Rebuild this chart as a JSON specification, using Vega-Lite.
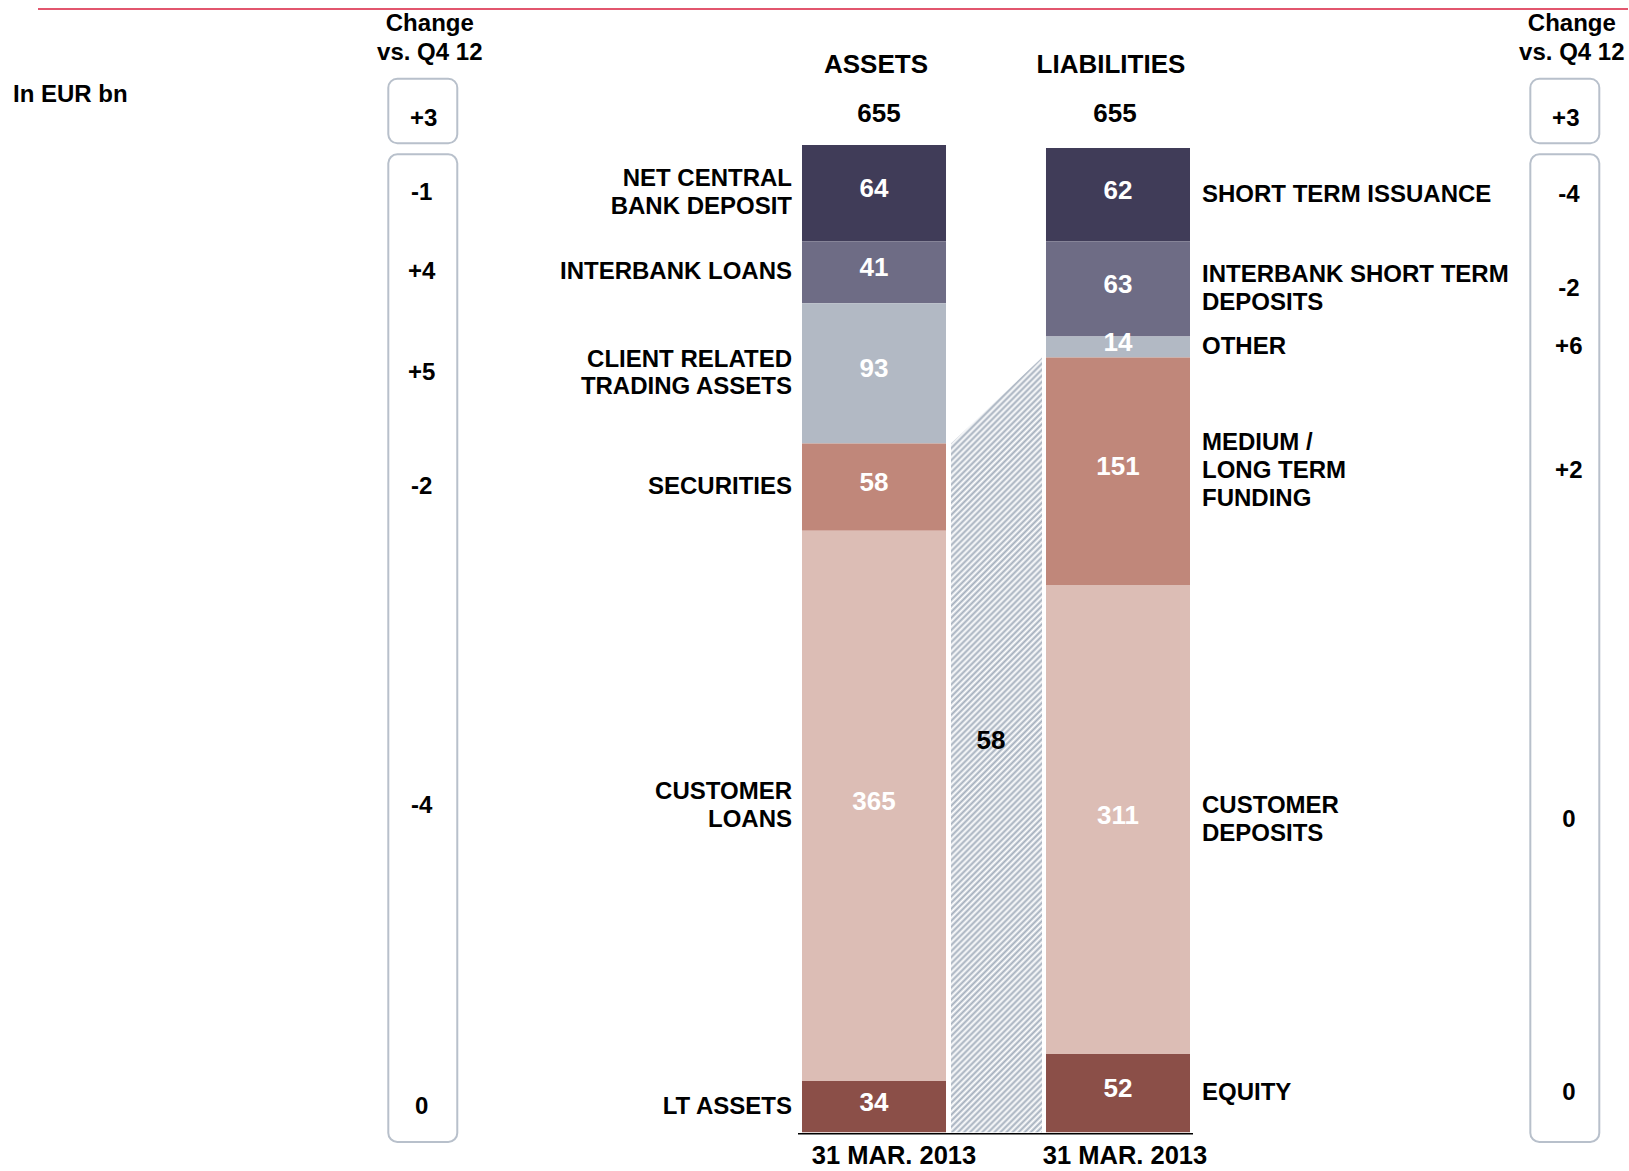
{
 "$schema": "https://vega.github.io/schema/vega-lite/v6.json",
 "width": 1629,
 "height": 1171,
 "autosize": {"type": "fit", "contains": "padding"},
 "padding": 0,
 "background": "#ffffff",
 "config": {
  "view": {"stroke": null},
  "font": "Liberation Sans",
  "text": {"font": "Liberation Sans", "fontWeight": "bold", "baseline": "middle", "fill": "#000000"}
 },
 "datasets": {
  "segments": [
   {"side": "Assets", "pos": 1, "item": ["NET CENTRAL", "BANK DEPOSIT"], "value": 64, "change": "-1"},
   {"side": "Assets", "pos": 2, "item": "INTERBANK LOANS", "value": 41, "change": "+4"},
   {"side": "Assets", "pos": 3, "item": ["CLIENT RELATED", "TRADING ASSETS"], "value": 93, "change": "+5"},
   {"side": "Assets", "pos": 4, "item": "SECURITIES", "value": 58, "change": "-2"},
   {"side": "Assets", "pos": 5, "item": ["CUSTOMER", "LOANS"], "value": 365, "change": "-4"},
   {"side": "Assets", "pos": 6, "item": "LT ASSETS", "value": 34, "change": "0"},
   {"side": "Liabilities", "pos": 1, "item": "SHORT TERM ISSUANCE", "value": 62, "change": "-4"},
   {"side": "Liabilities", "pos": 2, "item": ["INTERBANK SHORT TERM", "DEPOSITS"], "value": 63, "change": "-2"},
   {"side": "Liabilities", "pos": 3, "item": "OTHER", "value": 14, "change": "+6"},
   {"side": "Liabilities", "pos": 4, "item": ["MEDIUM /", "LONG TERM", "FUNDING"], "value": 151, "change": "+2"},
   {"side": "Liabilities", "pos": 5, "item": ["CUSTOMER", "DEPOSITS"], "value": 311, "change": "0"},
   {"side": "Liabilities", "pos": 6, "item": "EQUITY", "value": 52, "change": "0"}
  ],
  "totals": [
   {"side": "Assets", "title": "ASSETS", "total": 655, "change": "+3", "date": "31 MAR. 2013"},
   {"side": "Liabilities", "title": "LIABILITIES", "total": 655, "change": "+3", "date": "31 MAR. 2013"}
  ],
  "gap": [
   {"side": "Assets", "top": 457, "label": "58"},
   {"side": "Liabilities", "top": 514, "label": "58"}
  ]
 },
 "resolve": {"scale": {"x": "independent"}},
 "layer": [
  {
   "layer": [
    {
     "data": {"name": "segments"},
     "transform": [
      {"stack": "value", "groupby": ["side"], "sort": [{"field": "pos", "order": "descending"}], "as": ["v0", "v1"]},
      {"calculate": "(datum.v0+datum.v1)/2", "as": "mid"}
     ],
     "mark": {"type": "bar"},
     "encoding": {
      "x": {"field": "side", "type": "nominal", "scale": {"type": "band", "domain": ["Assets", "Liabilities"], "range": [798, 1194], "paddingInner": 0.4098, "paddingOuter": 0.0164}, "axis": null},
      "y": {"field": "v1", "type": "quantitative", "scale": {"domain": [-25.7, 751.2], "nice": false, "zero": false}, "axis": null},
      "y2": {"field": "v0"},
      "color": {"field": "pos", "type": "ordinal", "scale": {"domain": [1, 2, 3, 4, 5, 6], "range": ["#403c58", "#6e6c85", "#b2b9c4", "#c0877a", "#dcbdb5", "#8b4f48"]}, "legend": null}
     }
    },
    {
     "data": {"name": "segments"},
     "transform": [
      {"stack": "value", "groupby": ["side"], "sort": [{"field": "pos", "order": "descending"}], "as": ["v0", "v1"]},
      {"calculate": "(datum.v0+datum.v1)/2", "as": "mid"}
     ],
     "mark": {"type": "text", "fill": "#ffffff", "fontSize": 26, "dy": -4},
     "encoding": {
      "x": {"field": "side", "type": "nominal", "axis": null},
      "y": {"field": "mid", "type": "quantitative", "axis": null},
      "text": {"field": "value", "type": "nominal"}
     }
    },
    {
     "data": {"name": "segments"},
     "transform": [
      {"stack": "value", "groupby": ["side"], "sort": [{"field": "pos", "order": "descending"}], "as": ["v0", "v1"]},
      {"calculate": "(datum.v0+datum.v1)/2", "as": "mid"},
      {"filter": "datum.side === 'Assets' && !isArray(datum.item)"}
     ],
     "mark": {"type": "text", "align": "right", "dx": -10, "fontSize": 24},
     "encoding": {
      "x": {"field": "side", "type": "nominal", "bandPosition": 0, "axis": null},
      "y": {"field": "mid", "type": "quantitative", "axis": null},
      "text": {"field": "item", "type": "nominal"}
     }
    },
    {
     "data": {"name": "segments"},
     "transform": [
      {"stack": "value", "groupby": ["side"], "sort": [{"field": "pos", "order": "descending"}], "as": ["v0", "v1"]},
      {"calculate": "(datum.v0+datum.v1)/2", "as": "mid"},
      {"filter": "datum.side === 'Assets' && isArray(datum.item)"}
     ],
     "mark": {"type": "text", "align": "right", "dx": -10, "dy": -13.75, "fontSize": 24, "lineHeight": 27.5},
     "encoding": {
      "x": {"field": "side", "type": "nominal", "bandPosition": 0, "axis": null},
      "y": {"field": "mid", "type": "quantitative", "axis": null},
      "text": {"field": "item", "type": "nominal"}
     }
    },
    {
     "data": {"name": "segments"},
     "transform": [
      {"stack": "value", "groupby": ["side"], "sort": [{"field": "pos", "order": "descending"}], "as": ["v0", "v1"]},
      {"calculate": "(datum.v0+datum.v1)/2", "as": "mid"},
      {"filter": "datum.side === 'Liabilities' && !isArray(datum.item)"}
     ],
     "mark": {"type": "text", "align": "left", "dx": 12, "fontSize": 24},
     "encoding": {
      "x": {"field": "side", "type": "nominal", "bandPosition": 1, "axis": null},
      "y": {"field": "mid", "type": "quantitative", "axis": null},
      "text": {"field": "item", "type": "nominal"}
     }
    },
    {
     "data": {"name": "segments"},
     "transform": [
      {"stack": "value", "groupby": ["side"], "sort": [{"field": "pos", "order": "descending"}], "as": ["v0", "v1"]},
      {"calculate": "(datum.v0+datum.v1)/2", "as": "mid"},
      {"filter": "datum.side === 'Liabilities' && isArray(datum.item) && length(datum.item) === 2"}
     ],
     "mark": {"type": "text", "align": "left", "dx": 12, "dy": -14, "fontSize": 24, "lineHeight": 28},
     "encoding": {
      "x": {"field": "side", "type": "nominal", "bandPosition": 1, "axis": null},
      "y": {"field": "mid", "type": "quantitative", "axis": null},
      "text": {"field": "item", "type": "nominal"}
     }
    },
    {
     "data": {"name": "segments"},
     "transform": [
      {"stack": "value", "groupby": ["side"], "sort": [{"field": "pos", "order": "descending"}], "as": ["v0", "v1"]},
      {"calculate": "(datum.v0+datum.v1)/2", "as": "mid"},
      {"filter": "datum.side === 'Liabilities' && isArray(datum.item) && length(datum.item) === 3"}
     ],
     "mark": {"type": "text", "align": "left", "dx": 12, "dy": -28, "fontSize": 24, "lineHeight": 28},
     "encoding": {
      "x": {"field": "side", "type": "nominal", "bandPosition": 1, "axis": null},
      "y": {"field": "mid", "type": "quantitative", "axis": null},
      "text": {"field": "item", "type": "nominal"}
     }
    },
    {
     "data": {"name": "totals"},
     "transform": [{"filter": "datum.side === 'Assets'"}],
     "mark": {"type": "text", "fontSize": 26, "dy": -79.5, "dx": 2},
     "encoding": {
      "x": {"field": "side", "type": "nominal", "axis": null},
      "y": {"field": "total", "type": "quantitative", "axis": null},
      "text": {"field": "title", "type": "nominal"}
     }
    },
    {
     "data": {"name": "totals"},
     "transform": [{"filter": "datum.side === 'Liabilities'"}],
     "mark": {"type": "text", "fontSize": 26, "dy": -79.5, "dx": -7},
     "encoding": {
      "x": {"field": "side", "type": "nominal", "axis": null},
      "y": {"field": "total", "type": "quantitative", "axis": null},
      "text": {"field": "title", "type": "nominal"}
     }
    },
    {
     "data": {"name": "totals"},
     "transform": [{"filter": "datum.side === 'Assets'"}],
     "mark": {"type": "text", "fontSize": 26, "dy": -31.3, "dx": 5},
     "encoding": {
      "x": {"field": "side", "type": "nominal", "axis": null},
      "y": {"field": "total", "type": "quantitative", "axis": null},
      "text": {"field": "total", "type": "nominal"}
     }
    },
    {
     "data": {"name": "totals"},
     "transform": [{"filter": "datum.side === 'Liabilities'"}],
     "mark": {"type": "text", "fontSize": 26, "dy": -31.3, "dx": -3},
     "encoding": {
      "x": {"field": "side", "type": "nominal", "axis": null},
      "y": {"field": "total", "type": "quantitative", "axis": null},
      "text": {"field": "total", "type": "nominal"}
     }
    },
    {
     "data": {"name": "totals"},
     "transform": [{"filter": "datum.side === 'Assets'"}],
     "mark": {"type": "text", "fontSize": 25.5, "dy": 24, "dx": 20},
     "encoding": {
      "x": {"field": "side", "type": "nominal", "axis": null},
      "y": {"datum": 0, "type": "quantitative", "axis": null},
      "text": {"field": "date", "type": "nominal"}
     }
    },
    {
     "data": {"name": "totals"},
     "transform": [{"filter": "datum.side === 'Liabilities'"}],
     "mark": {"type": "text", "fontSize": 25.5, "dy": 24, "dx": 7},
     "encoding": {
      "x": {"field": "side", "type": "nominal", "axis": null},
      "y": {"datum": 0, "type": "quantitative", "axis": null},
      "text": {"field": "date", "type": "nominal"}
     }
    }
   ]
  },
  {
   "layer": [
    {
     "data": {"name": "totals"},
     "mark": {"type": "rect", "fill": "#ffffff", "stroke": "#b8c0cb", "strokeWidth": 2, "cornerRadius": 9, "yOffset": -66.3, "y2Offset": -1.7},
     "encoding": {
      "x": {"field": "side", "type": "nominal", "scale": {"type": "band", "domain": ["Assets", "Liabilities"], "range": [388.3, 1599.3], "paddingInner": 0.9396, "paddingOuter": 0}, "axis": null},
      "y": {"field": "total", "type": "quantitative", "axis": null},
      "y2": {"field": "total"}
     }
    },
    {
     "data": {"name": "totals"},
     "mark": {"type": "rect", "fill": "#ffffff", "stroke": "#b8c0cb", "strokeWidth": 2, "cornerRadius": 9, "yOffset": 9.3, "y2Offset": 9.7},
     "encoding": {
      "x": {"field": "side", "type": "nominal", "axis": null},
      "y": {"field": "total", "type": "quantitative", "axis": null},
      "y2": {"datum": 0}
     }
    },
    {
     "data": {"name": "totals"},
     "mark": {"type": "text", "fontSize": 24, "dy": -25.5, "dx": 1},
     "encoding": {
      "x": {"field": "side", "type": "nominal", "axis": null},
      "y": {"field": "total", "type": "quantitative", "axis": null},
      "text": {"field": "change", "type": "nominal"}
     }
    },
    {
     "data": {"name": "totals"},
     "mark": {"type": "text", "fontSize": 24, "dy": -121.25, "dx": 7, "lineHeight": 29.5},
     "encoding": {
      "x": {"field": "side", "type": "nominal", "axis": null},
      "y": {"field": "total", "type": "quantitative", "axis": null},
      "text": {"value": ["Change", "vs. Q4 12"]}
     }
    },
    {
     "data": {"name": "segments"},
     "transform": [
      {"stack": "value", "groupby": ["side"], "sort": [{"field": "pos", "order": "descending"}], "as": ["v0", "v1"]},
      {"calculate": "(datum.v0+datum.v1)/2", "as": "mid"},
      {"filter": "datum.side === 'Assets'"}
     ],
     "mark": {"type": "text", "fontSize": 24, "dx": -1},
     "encoding": {
      "x": {"field": "side", "type": "nominal", "axis": null},
      "y": {"field": "mid", "type": "quantitative", "axis": null},
      "text": {"field": "change", "type": "nominal"}
     }
    },
    {
     "data": {"name": "segments"},
     "transform": [
      {"stack": "value", "groupby": ["side"], "sort": [{"field": "pos", "order": "descending"}], "as": ["v0", "v1"]},
      {"calculate": "(datum.v0+datum.v1)/2", "as": "mid"},
      {"filter": "datum.side === 'Liabilities'"}
     ],
     "mark": {"type": "text", "fontSize": 24, "dx": 4},
     "encoding": {
      "x": {"field": "side", "type": "nominal", "axis": null},
      "y": {"field": "mid", "type": "quantitative", "axis": null},
      "text": {"field": "change", "type": "nominal"}
     }
    }
   ]
  },
  {
   "layer": [
    {
     "data": {"name": "gap"},
     "mark": {
      "type": "area", "opacity": 1, "fillOpacity": 1, "interpolate": "linear",
      "fill": {"gradient": "linear", "x1": 0, "y1": 0, "x2": 0.1295, "y2": 1.1022, "stops": [
       {"offset": 0, "color": "#a4afbd"}, {"offset": 0.0035, "color": "#ffffff"}, {"offset": 0.007, "color": "#a4afbd"}, {"offset": 0.0105, "color": "#ffffff"}, {"offset": 0.014, "color": "#a4afbd"}, {"offset": 0.0175, "color": "#ffffff"}, {"offset": 0.021, "color": "#a4afbd"}, {"offset": 0.0245, "color": "#ffffff"}, {"offset": 0.028, "color": "#a4afbd"}, {"offset": 0.0315, "color": "#ffffff"}, {"offset": 0.035, "color": "#a4afbd"}, {"offset": 0.0385, "color": "#ffffff"}, {"offset": 0.042, "color": "#a4afbd"}, {"offset": 0.0455, "color": "#ffffff"}, {"offset": 0.049, "color": "#a4afbd"}, {"offset": 0.0525, "color": "#ffffff"}, {"offset": 0.056, "color": "#a4afbd"}, {"offset": 0.0595, "color": "#ffffff"}, {"offset": 0.063, "color": "#a4afbd"}, {"offset": 0.0665, "color": "#ffffff"},
       {"offset": 0.07, "color": "#a4afbd"}, {"offset": 0.0735, "color": "#ffffff"}, {"offset": 0.077, "color": "#a4afbd"}, {"offset": 0.0805, "color": "#ffffff"}, {"offset": 0.084, "color": "#a4afbd"}, {"offset": 0.0875, "color": "#ffffff"}, {"offset": 0.091, "color": "#a4afbd"}, {"offset": 0.0945, "color": "#ffffff"}, {"offset": 0.098, "color": "#a4afbd"}, {"offset": 0.1015, "color": "#ffffff"}, {"offset": 0.105, "color": "#a4afbd"}, {"offset": 0.1085, "color": "#ffffff"}, {"offset": 0.112, "color": "#a4afbd"}, {"offset": 0.1155, "color": "#ffffff"}, {"offset": 0.119, "color": "#a4afbd"}, {"offset": 0.1225, "color": "#ffffff"}, {"offset": 0.126, "color": "#a4afbd"}, {"offset": 0.1295, "color": "#ffffff"}, {"offset": 0.133, "color": "#a4afbd"}, {"offset": 0.1365, "color": "#ffffff"},
       {"offset": 0.14, "color": "#a4afbd"}, {"offset": 0.1435, "color": "#ffffff"}, {"offset": 0.147, "color": "#a4afbd"}, {"offset": 0.1505, "color": "#ffffff"}, {"offset": 0.154, "color": "#a4afbd"}, {"offset": 0.1575, "color": "#ffffff"}, {"offset": 0.161, "color": "#a4afbd"}, {"offset": 0.1645, "color": "#ffffff"}, {"offset": 0.168, "color": "#a4afbd"}, {"offset": 0.1715, "color": "#ffffff"}, {"offset": 0.175, "color": "#a4afbd"}, {"offset": 0.1785, "color": "#ffffff"}, {"offset": 0.182, "color": "#a4afbd"}, {"offset": 0.1855, "color": "#ffffff"}, {"offset": 0.189, "color": "#a4afbd"}, {"offset": 0.1925, "color": "#ffffff"}, {"offset": 0.196, "color": "#a4afbd"}, {"offset": 0.1995, "color": "#ffffff"}, {"offset": 0.203, "color": "#a4afbd"}, {"offset": 0.2065, "color": "#ffffff"},
       {"offset": 0.21, "color": "#a4afbd"}, {"offset": 0.2135, "color": "#ffffff"}, {"offset": 0.217, "color": "#a4afbd"}, {"offset": 0.2205, "color": "#ffffff"}, {"offset": 0.224, "color": "#a4afbd"}, {"offset": 0.2275, "color": "#ffffff"}, {"offset": 0.231, "color": "#a4afbd"}, {"offset": 0.2345, "color": "#ffffff"}, {"offset": 0.238, "color": "#a4afbd"}, {"offset": 0.2415, "color": "#ffffff"}, {"offset": 0.245, "color": "#a4afbd"}, {"offset": 0.2485, "color": "#ffffff"}, {"offset": 0.252, "color": "#a4afbd"}, {"offset": 0.2555, "color": "#ffffff"}, {"offset": 0.259, "color": "#a4afbd"}, {"offset": 0.2625, "color": "#ffffff"}, {"offset": 0.266, "color": "#a4afbd"}, {"offset": 0.2695, "color": "#ffffff"}, {"offset": 0.273, "color": "#a4afbd"}, {"offset": 0.2765, "color": "#ffffff"},
       {"offset": 0.28, "color": "#a4afbd"}, {"offset": 0.2835, "color": "#ffffff"}, {"offset": 0.287, "color": "#a4afbd"}, {"offset": 0.2905, "color": "#ffffff"}, {"offset": 0.294, "color": "#a4afbd"}, {"offset": 0.2975, "color": "#ffffff"}, {"offset": 0.301, "color": "#a4afbd"}, {"offset": 0.3045, "color": "#ffffff"}, {"offset": 0.308, "color": "#a4afbd"}, {"offset": 0.3115, "color": "#ffffff"}, {"offset": 0.315, "color": "#a4afbd"}, {"offset": 0.3185, "color": "#ffffff"}, {"offset": 0.322, "color": "#a4afbd"}, {"offset": 0.3255, "color": "#ffffff"}, {"offset": 0.329, "color": "#a4afbd"}, {"offset": 0.3325, "color": "#ffffff"}, {"offset": 0.336, "color": "#a4afbd"}, {"offset": 0.3395, "color": "#ffffff"}, {"offset": 0.343, "color": "#a4afbd"}, {"offset": 0.3465, "color": "#ffffff"},
       {"offset": 0.35, "color": "#a4afbd"}, {"offset": 0.3535, "color": "#ffffff"}, {"offset": 0.357, "color": "#a4afbd"}, {"offset": 0.3605, "color": "#ffffff"}, {"offset": 0.364, "color": "#a4afbd"}, {"offset": 0.3675, "color": "#ffffff"}, {"offset": 0.371, "color": "#a4afbd"}, {"offset": 0.3745, "color": "#ffffff"}, {"offset": 0.378, "color": "#a4afbd"}, {"offset": 0.3815, "color": "#ffffff"}, {"offset": 0.385, "color": "#a4afbd"}, {"offset": 0.3885, "color": "#ffffff"}, {"offset": 0.392, "color": "#a4afbd"}, {"offset": 0.3955, "color": "#ffffff"}, {"offset": 0.399, "color": "#a4afbd"}, {"offset": 0.4025, "color": "#ffffff"}, {"offset": 0.406, "color": "#a4afbd"}, {"offset": 0.4095, "color": "#ffffff"}, {"offset": 0.413, "color": "#a4afbd"}, {"offset": 0.4165, "color": "#ffffff"},
       {"offset": 0.42, "color": "#a4afbd"}, {"offset": 0.4235, "color": "#ffffff"}, {"offset": 0.427, "color": "#a4afbd"}, {"offset": 0.4305, "color": "#ffffff"}, {"offset": 0.434, "color": "#a4afbd"}, {"offset": 0.4375, "color": "#ffffff"}, {"offset": 0.441, "color": "#a4afbd"}, {"offset": 0.4445, "color": "#ffffff"}, {"offset": 0.448, "color": "#a4afbd"}, {"offset": 0.4515, "color": "#ffffff"}, {"offset": 0.455, "color": "#a4afbd"}, {"offset": 0.4585, "color": "#ffffff"}, {"offset": 0.462, "color": "#a4afbd"}, {"offset": 0.4655, "color": "#ffffff"}, {"offset": 0.469, "color": "#a4afbd"}, {"offset": 0.4725, "color": "#ffffff"}, {"offset": 0.476, "color": "#a4afbd"}, {"offset": 0.4795, "color": "#ffffff"}, {"offset": 0.483, "color": "#a4afbd"}, {"offset": 0.4865, "color": "#ffffff"},
       {"offset": 0.49, "color": "#a4afbd"}, {"offset": 0.4935, "color": "#ffffff"}, {"offset": 0.497, "color": "#a4afbd"}, {"offset": 0.5005, "color": "#ffffff"}, {"offset": 0.504, "color": "#a4afbd"}, {"offset": 0.5075, "color": "#ffffff"}, {"offset": 0.511, "color": "#a4afbd"}, {"offset": 0.5145, "color": "#ffffff"}, {"offset": 0.518, "color": "#a4afbd"}, {"offset": 0.5215, "color": "#ffffff"}, {"offset": 0.525, "color": "#a4afbd"}, {"offset": 0.5285, "color": "#ffffff"}, {"offset": 0.532, "color": "#a4afbd"}, {"offset": 0.5355, "color": "#ffffff"}, {"offset": 0.539, "color": "#a4afbd"}, {"offset": 0.5425, "color": "#ffffff"}, {"offset": 0.546, "color": "#a4afbd"}, {"offset": 0.5495, "color": "#ffffff"}, {"offset": 0.553, "color": "#a4afbd"}, {"offset": 0.5565, "color": "#ffffff"},
       {"offset": 0.56, "color": "#a4afbd"}, {"offset": 0.5635, "color": "#ffffff"}, {"offset": 0.567, "color": "#a4afbd"}, {"offset": 0.5705, "color": "#ffffff"}, {"offset": 0.574, "color": "#a4afbd"}, {"offset": 0.5775, "color": "#ffffff"}, {"offset": 0.581, "color": "#a4afbd"}, {"offset": 0.5845, "color": "#ffffff"}, {"offset": 0.588, "color": "#a4afbd"}, {"offset": 0.5915, "color": "#ffffff"}, {"offset": 0.595, "color": "#a4afbd"}, {"offset": 0.5985, "color": "#ffffff"}, {"offset": 0.602, "color": "#a4afbd"}, {"offset": 0.6055, "color": "#ffffff"}, {"offset": 0.609, "color": "#a4afbd"}, {"offset": 0.6125, "color": "#ffffff"}, {"offset": 0.616, "color": "#a4afbd"}, {"offset": 0.6195, "color": "#ffffff"}, {"offset": 0.623, "color": "#a4afbd"}, {"offset": 0.6265, "color": "#ffffff"},
       {"offset": 0.63, "color": "#a4afbd"}, {"offset": 0.6335, "color": "#ffffff"}, {"offset": 0.637, "color": "#a4afbd"}, {"offset": 0.6405, "color": "#ffffff"}, {"offset": 0.644, "color": "#a4afbd"}, {"offset": 0.6475, "color": "#ffffff"}, {"offset": 0.651, "color": "#a4afbd"}, {"offset": 0.6545, "color": "#ffffff"}, {"offset": 0.658, "color": "#a4afbd"}, {"offset": 0.6615, "color": "#ffffff"}, {"offset": 0.665, "color": "#a4afbd"}, {"offset": 0.6685, "color": "#ffffff"}, {"offset": 0.672, "color": "#a4afbd"}, {"offset": 0.6755, "color": "#ffffff"}, {"offset": 0.679, "color": "#a4afbd"}, {"offset": 0.6825, "color": "#ffffff"}, {"offset": 0.686, "color": "#a4afbd"}, {"offset": 0.6895, "color": "#ffffff"}, {"offset": 0.693, "color": "#a4afbd"}, {"offset": 0.6965, "color": "#ffffff"},
       {"offset": 0.7, "color": "#a4afbd"}, {"offset": 0.7035, "color": "#ffffff"}, {"offset": 0.707, "color": "#a4afbd"}, {"offset": 0.7105, "color": "#ffffff"}, {"offset": 0.714, "color": "#a4afbd"}, {"offset": 0.7175, "color": "#ffffff"}, {"offset": 0.721, "color": "#a4afbd"}, {"offset": 0.7245, "color": "#ffffff"}, {"offset": 0.728, "color": "#a4afbd"}, {"offset": 0.7315, "color": "#ffffff"}, {"offset": 0.735, "color": "#a4afbd"}, {"offset": 0.7385, "color": "#ffffff"}, {"offset": 0.742, "color": "#a4afbd"}, {"offset": 0.7455, "color": "#ffffff"}, {"offset": 0.749, "color": "#a4afbd"}, {"offset": 0.7525, "color": "#ffffff"}, {"offset": 0.756, "color": "#a4afbd"}, {"offset": 0.7595, "color": "#ffffff"}, {"offset": 0.763, "color": "#a4afbd"}, {"offset": 0.7665, "color": "#ffffff"},
       {"offset": 0.77, "color": "#a4afbd"}, {"offset": 0.7735, "color": "#ffffff"}, {"offset": 0.777, "color": "#a4afbd"}, {"offset": 0.7805, "color": "#ffffff"}, {"offset": 0.784, "color": "#a4afbd"}, {"offset": 0.7875, "color": "#ffffff"}, {"offset": 0.791, "color": "#a4afbd"}, {"offset": 0.7945, "color": "#ffffff"}, {"offset": 0.798, "color": "#a4afbd"}, {"offset": 0.8015, "color": "#ffffff"}, {"offset": 0.805, "color": "#a4afbd"}, {"offset": 0.8085, "color": "#ffffff"}, {"offset": 0.812, "color": "#a4afbd"}, {"offset": 0.8155, "color": "#ffffff"}, {"offset": 0.819, "color": "#a4afbd"}, {"offset": 0.8225, "color": "#ffffff"}, {"offset": 0.826, "color": "#a4afbd"}, {"offset": 0.8295, "color": "#ffffff"}, {"offset": 0.833, "color": "#a4afbd"}, {"offset": 0.8365, "color": "#ffffff"},
       {"offset": 0.84, "color": "#a4afbd"}, {"offset": 0.8435, "color": "#ffffff"}, {"offset": 0.847, "color": "#a4afbd"}, {"offset": 0.8505, "color": "#ffffff"}, {"offset": 0.854, "color": "#a4afbd"}, {"offset": 0.8575, "color": "#ffffff"}, {"offset": 0.861, "color": "#a4afbd"}, {"offset": 0.8645, "color": "#ffffff"}, {"offset": 0.868, "color": "#a4afbd"}, {"offset": 0.8715, "color": "#ffffff"}, {"offset": 0.875, "color": "#a4afbd"}, {"offset": 0.8785, "color": "#ffffff"}, {"offset": 0.882, "color": "#a4afbd"}, {"offset": 0.8855, "color": "#ffffff"}, {"offset": 0.889, "color": "#a4afbd"}, {"offset": 0.8925, "color": "#ffffff"}, {"offset": 0.896, "color": "#a4afbd"}, {"offset": 0.8995, "color": "#ffffff"}, {"offset": 0.903, "color": "#a4afbd"}, {"offset": 0.9065, "color": "#ffffff"},
       {"offset": 0.91, "color": "#a4afbd"}, {"offset": 0.9135, "color": "#ffffff"}, {"offset": 0.917, "color": "#a4afbd"}, {"offset": 0.9205, "color": "#ffffff"}, {"offset": 0.924, "color": "#a4afbd"}, {"offset": 0.9275, "color": "#ffffff"}, {"offset": 0.931, "color": "#a4afbd"}, {"offset": 0.9345, "color": "#ffffff"}, {"offset": 0.938, "color": "#a4afbd"}, {"offset": 0.9415, "color": "#ffffff"}, {"offset": 0.945, "color": "#a4afbd"}, {"offset": 0.9485, "color": "#ffffff"}, {"offset": 0.952, "color": "#a4afbd"}, {"offset": 0.9555, "color": "#ffffff"}, {"offset": 0.959, "color": "#a4afbd"}, {"offset": 0.9625, "color": "#ffffff"}, {"offset": 0.966, "color": "#a4afbd"}, {"offset": 0.9695, "color": "#ffffff"}, {"offset": 0.973, "color": "#a4afbd"}, {"offset": 0.9765, "color": "#ffffff"},
       {"offset": 0.98, "color": "#a4afbd"}, {"offset": 0.9835, "color": "#ffffff"}, {"offset": 0.987, "color": "#a4afbd"}, {"offset": 0.9905, "color": "#ffffff"}, {"offset": 0.994, "color": "#a4afbd"}, {"offset": 0.9975, "color": "#ffffff"}, {"offset": 1, "color": "#a4afbd"}
      ]}
     },
     "encoding": {
      "x": {"field": "side", "type": "nominal", "scale": {"type": "point", "domain": ["Assets", "Liabilities"], "range": [951, 1042], "padding": 0}, "axis": null},
      "y": {"field": "top", "type": "quantitative", "axis": null},
      "y2": {"datum": 0}
     }
    },
    {
     "data": {"name": "gap"},
     "transform": [{"filter": "datum.side === 'Liabilities'"}, {"calculate": "datum.top/2", "as": "mid"}],
     "mark": {"type": "text", "fontSize": 26, "dx": -51, "dy": -4},
     "encoding": {
      "x": {"field": "side", "type": "nominal", "axis": null},
      "y": {"field": "mid", "type": "quantitative", "axis": null},
      "text": {"field": "label", "type": "nominal"}
     }
    }
   ]
  },
  {
   "data": {"name": "totals"},
   "transform": [{"filter": "datum.side === 'Assets'"}],
   "mark": {"type": "rule", "stroke": "#000000", "strokeWidth": 1.6, "yOffset": 1.5},
   "encoding": {
    "x": {"datum": "Assets", "type": "nominal", "scale": {"type": "point", "domain": ["Assets", "Liabilities"], "range": [798, 1193], "padding": 0}, "axis": null},
    "x2": {"datum": "Liabilities"},
    "y": {"datum": 0, "type": "quantitative", "axis": null}
   }
  },
  {
   "data": {"values": [{"unit": "In EUR bn"}]},
   "layer": [
    {
     "mark": {"type": "rule", "stroke": "#e2566e", "strokeWidth": 2},
     "encoding": {"x": {"value": 38}, "x2": {"value": 1628}, "y": {"value": 9}}
    },
    {
     "mark": {"type": "text", "align": "left", "fontSize": 24},
     "encoding": {"x": {"value": 13}, "y": {"value": 95}, "text": {"field": "unit", "type": "nominal"}}
    }
   ]
  }
 ]
}
